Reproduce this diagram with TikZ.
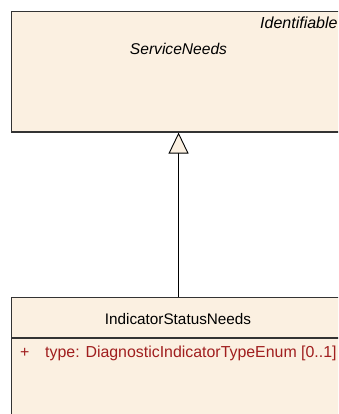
\documentclass[tikz,border=0pt]{standalone}
\usepackage{fontspec}
\setmainfont{Liberation Sans}
\usetikzlibrary{arrows.meta}
\definecolor{cream}{RGB}{251,240,225}
\definecolor{bordergray}{RGB}{51,51,51}
\definecolor{attrred}{RGB}{160,30,30}
\tikzset{
  classbox/.style={draw=bordergray, fill=cream, line width=1.1pt, anchor=north west, inner sep=0pt},
  lbl/.style={font=\fontsize{15.3}{18}\selectfont, inner sep=0pt, anchor=base},
  attr/.style={font=\fontsize{15.9}{18}\selectfont, inner sep=0pt, anchor=base west, text=attrred},
  gen/.style={line width=0.9pt, -{Triangle[open, length=21pt, width=20pt, fill=cream]}}
}
\begin{document}
\begin{tikzpicture}[x=1pt,y=1pt]
\useasboundingbox (0,0) rectangle (338,-414);
\clip (0,0) rectangle (338,-414);
\node[classbox, minimum width=334pt, minimum height=120.5pt] (sn) at (11,-11) {};
\node[lbl, font=\fontsize{15.6}{18}\selectfont\itshape] (snname) at (178.5,-55) {ServiceNeeds};
\node[lbl, font=\fontsize{16}{18}\selectfont\itshape, anchor=base west] (snster) at (260,-29) {Identifiable};
\node[classbox, minimum width=334pt, minimum height=130pt] (isn) at (11,-297) {};
\node[lbl] (isnname) at (178,-324) {IndicatorStatusNeeds};
\coordinate (sepl) at (11,-338);
\coordinate (sepr) at (345,-338);
\draw[draw=bordergray, line width=1.1pt] (sepl) -- (sepr);
\node[attr] (plus) at (20,-357) {+};
\node[attr] (attr1) at (45,-357) {type: DiagnosticIndicatorTypeEnum [0..1]};
\draw[gen] (isn.north -| sn.south) -- (sn.south);
\end{tikzpicture}
\end{document}
